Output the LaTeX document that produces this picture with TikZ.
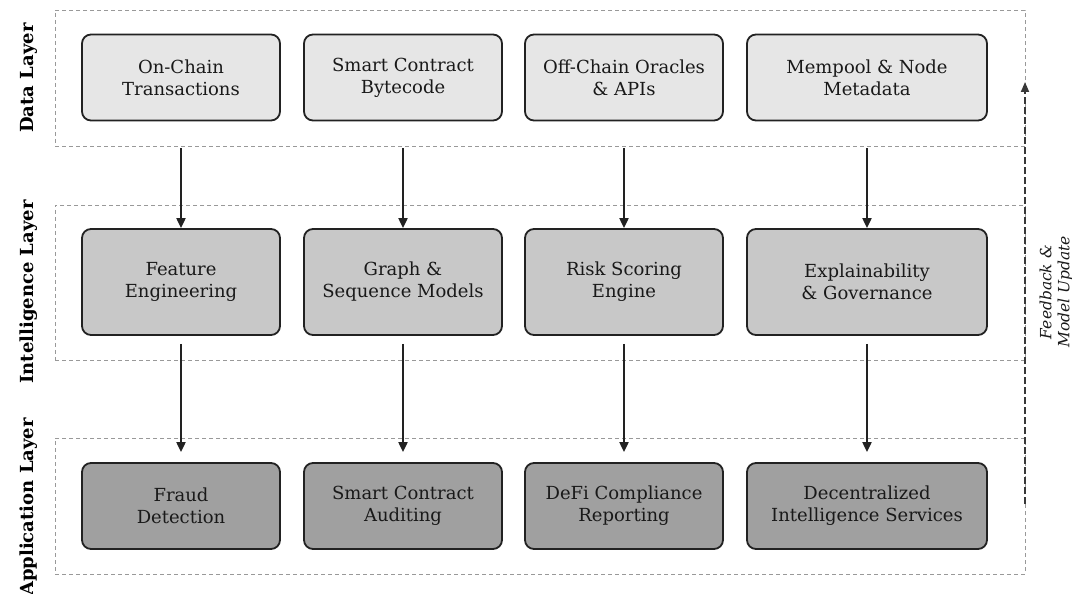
\documentclass[tikz,border=0pt]{standalone}
\usepackage{fontspec}
\setmainfont{DejaVu Serif}
\usetikzlibrary{arrows.meta}
\definecolor{dataFill}{HTML}{E6E6E6}
\definecolor{intelFill}{HTML}{C8C8C8}
\definecolor{appFill}{HTML}{A0A0A0}
\definecolor{edgeDark}{HTML}{222222}
\definecolor{frameGray}{HTML}{999999}
\tikzset{
  card/.style={draw=edgeDark, line width=1.8pt, rounded corners=9pt,
    align=center, inner sep=0pt, font=\fontsize{18}{22}\selectfont,
    text=black!90},
  layerframe/.style={draw=frameGray, line width=0.9pt, dash pattern=on 4pt off 3pt,
    inner sep=0pt},
  layertitle/.style={rotate=90, font=\fontsize{18}{22}\selectfont\bfseries},
  flow/.style={draw=edgeDark, line width=2pt,
    -{Triangle[length=10pt,width=9pt]}},
  feedback/.style={draw=edgeDark!90, line width=1.8pt, dash pattern=on 7pt off 3pt,
    -{Triangle[length=10pt,width=8pt]}}
}
\begin{document}
\begin{tikzpicture}[x=1pt, y=-1pt]
  \useasboundingbox (0,0) rectangle (1072,594);

  % layer frames
  \node[layerframe, minimum width=970pt, minimum height=136pt] (dl) at (540,78) {};
  \node[layerframe, minimum width=970pt, minimum height=155pt] (il) at (540,282.5) {};
  \node[layerframe, minimum width=970pt, minimum height=136pt] (al) at (540,506) {};

  % layer titles
  \node[layertitle] (tdl) at (29,78) {Data Layer};
  \node[layertitle] (til) at (29,292) {Intelligence Layer};
  \node[layertitle] (tal) at (29,507) {Application Layer};

  % data layer
  \node[card, fill=dataFill, minimum width=198pt, minimum height=86pt] (d1) at (181,77.5) {On-Chain\\Transactions};
  \node[card, fill=dataFill, minimum width=198pt, minimum height=86pt] (d2) at (403,77.5) {Smart Contract\\Bytecode};
  \node[card, fill=dataFill, minimum width=198pt, minimum height=86pt] (d3) at (624,77.5) {Off-Chain Oracles\\\& APIs};
  \node[card, fill=dataFill, minimum width=240pt, minimum height=86pt] (d4) at (867,77.5) {Mempool \& Node\\Metadata};

  % intelligence layer
  \node[card, fill=intelFill, minimum width=198pt, minimum height=106pt] (i1) at (181,282) {Feature\\Engineering};
  \node[card, fill=intelFill, minimum width=198pt, minimum height=106pt] (i2) at (403,282) {Graph \&\\Sequence Models};
  \node[card, fill=intelFill, minimum width=198pt, minimum height=106pt] (i3) at (624,282) {Risk Scoring\\Engine};
  \node[card, fill=intelFill, minimum width=240pt, minimum height=106pt] (i4) at (867,282) {Explainability\\\& Governance};

  % application layer
  \node[card, fill=appFill, minimum width=198pt, minimum height=86pt] (a1) at (181,506) {Fraud\\Detection};
  \node[card, fill=appFill, minimum width=198pt, minimum height=86pt] (a2) at (403,506) {Smart Contract\\Auditing};
  \node[card, fill=appFill, minimum width=198pt, minimum height=86pt] (a3) at (624,506) {DeFi Compliance\\Reporting};
  \node[card, fill=appFill, minimum width=240pt, minimum height=86pt] (a4) at (867,506) {Decentralized\\Intelligence Services};

  % data -> intelligence
  \foreach \k in {1,2,3,4}{
    \draw[flow] ([yshift=-2pt]d\k.south |- dl.south) -- (i\k.north);
  }
  % intelligence -> application
  \foreach \k in {1,2,3,4}{
    \draw[flow] ([yshift=-8pt]i\k.south) -- ([yshift=10pt]a\k.north);
  }

  % feedback loop
  \coordinate (fbLow) at (1025,504);
  \coordinate (fbHigh) at (1025,82);
  \draw[feedback] (fbLow) -- (fbHigh);
  \node[rotate=90, align=center, font=\fontsize{15.5}{18}\selectfont\itshape, text=black!90]
    (fbl) at (1056,292) {Feedback \&\\Model Update};
\end{tikzpicture}
\end{document}
